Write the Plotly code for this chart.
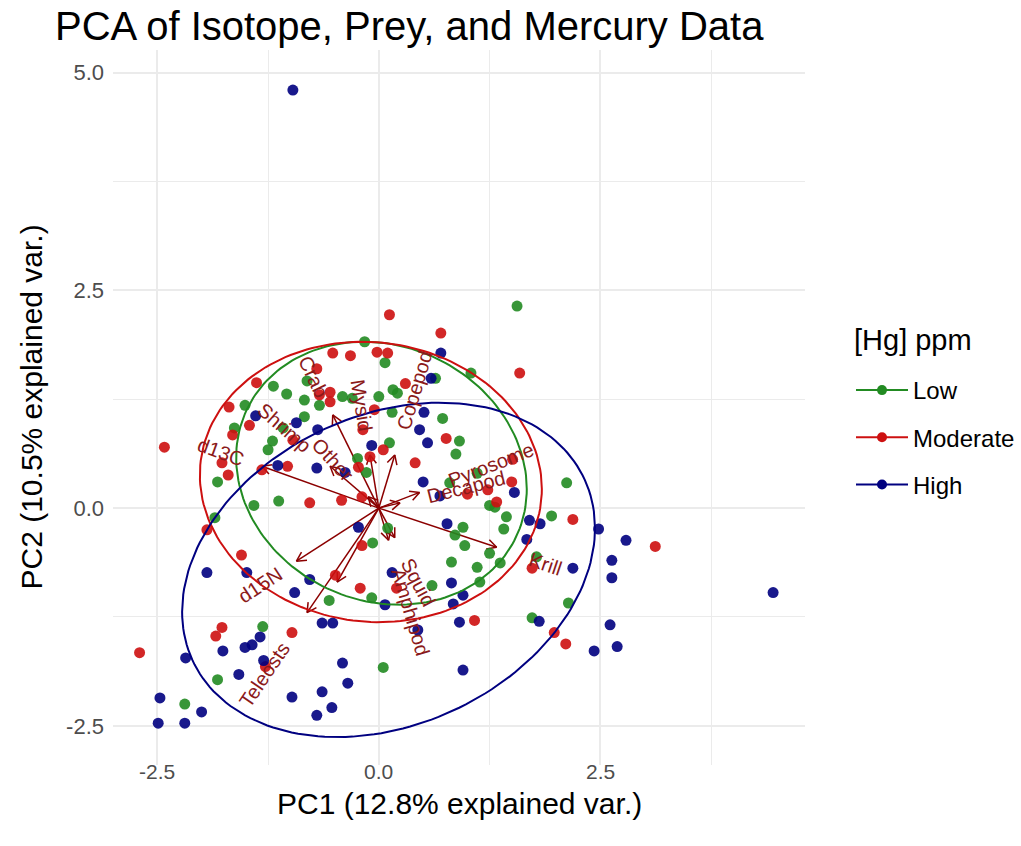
import numpy as np
import plotly.graph_objects as go

# ---------------- data (PC scores) ----------------
low_pc1 = [-0.16, 0.07, -0.81, -1.19, -1.04, -0.84, -0.67, -0.41, -0.30, 0.00, 0.16, 0.21,
           -1.51, -1.63, -1.08, -0.84, -1.20, 0.12, -0.24, -0.14, -1.82, 0.72, 1.56, 1.04,
           0.64, 0.15, 0.91, 0.87, 1.11, 2.12, 0.80, 1.31, 1.25, 1.44, 1.41, 1.95, 0.95,
           0.86, 0.97, 1.25, 1.37, 1.11, 0.82, 1.14, 1.78, 0.60, 0.10, 2.14, 1.73, 0.05,
           -0.07, -0.08, -0.56, -1.41, -1.13, -1.85, -1.31, -1.82, -2.19, -1.25]
low_pc2 = [1.91, 1.67, 1.46, 1.40, 1.31, 1.24, 1.18, 1.28, 1.26, 1.28, 1.36, 1.32,
           1.18, 0.92, 0.92, 1.05, 0.77, 0.75, 0.57, 0.41, 0.30, 1.03, 2.32, 1.55,
           1.49, 1.10, 0.77, 0.62, 0.40, 0.29, 0.29, 0.01, 0.03, -0.10, -0.24, -0.09, -0.22,
           -0.31, -0.43, -0.52, -0.63, -0.68, -0.62, -0.85, -0.56, -0.89, -0.23, -1.09, -1.26, -1.83,
           -0.40, -1.03, -1.06, 0.03, 0.08, -0.11, -1.36, -1.97, -2.25, 0.67]

mod_pc1 = [0.12, 0.70, -0.52, -0.32, -0.02, 0.10, -0.70, -1.38, -0.67, -0.55, -0.55, 0.30,
           -1.69, -1.46, -1.65, -0.97, -2.42, -0.18, -0.10, 0.05, 0.41, -1.03, -1.32, -1.77,
           -1.70, 0.76, 1.59, -0.05, 1.51, 1.50, 1.00, 1.23, 1.33, 2.19, 3.12, 1.73, 0.20,
           1.08, 1.98, 2.11, -0.78, -0.42, -0.19, -0.19, -0.49, -0.21, -1.94, -1.55, -1.77,
           -1.84, -0.98, -1.28, -2.70, -0.23]
mod_pc2 = [2.22, 2.01, 1.78, 1.75, 1.79, 1.78, 1.60, 1.44, 1.30, 1.33, 1.22, 1.43,
           1.16, 0.95, 0.84, 0.78, 0.70, 0.90, 0.59, 0.67, 0.52, 0.48, 0.44, 0.52,
           0.38, 0.80, 1.55, 1.13, 0.56, 0.30, 0.16, 0.21, 0.07, -0.13, -0.44, -0.69, -0.92,
           -1.29, -1.43, -1.56, 0.06, 0.09, 0.13, -0.43, -0.77, -0.92, -0.25, -0.54, -1.37,
           -1.47, -1.43, -1.82, -1.66, 0.47]

high_pc1 = [-0.97, 0.70, 0.59, 0.51, 0.46, 0.55, -1.39, -0.93, -0.69, -0.08, -0.70, -1.14,
            0.50, -0.38, 0.69, 1.53, 0.77, 1.70, 1.82, 1.67, 2.48, 2.79, 2.63, 2.63, 2.19,
            4.45, 0.15, 0.82, 0.95, 0.07, 0.84, 0.91, 1.81, 2.61, 2.43, 2.69, 0.44, 0.95,
            -0.23, -0.78, -0.64, -0.52, -1.94, -1.49, -0.95, -1.34, -1.76, -1.51, -1.43,
            -1.30, -2.18, -1.58, -0.41, -0.35, -0.64, -0.98, -0.53, -0.70, -2.47, -2.00,
            -2.49, -2.19]
high_pc2 = [4.80, 1.78, 1.49, 1.10, 0.90, 0.75, 1.06, 0.98, 0.90, 0.72, 0.46, 0.49,
            0.30, 0.41, 0.14, 0.18, -0.18, -0.14, -0.18, -0.36, -0.24, -0.37, -0.60, -0.80, -0.69,
            -0.97, -0.74, -0.86, -1.00, -1.11, -1.10, -1.31, -1.30, -1.34, -1.64, -1.59, -1.40, -1.86,
            -0.22, -0.82, -1.32, -1.32, -0.74, -0.74, -0.97, -1.48, -1.64, -1.60, -1.57,
            -1.75, -1.72, -1.91, -1.78, -2.01, -2.11, -2.17, -2.29, -2.38, -2.18, -2.34,
            -2.47, -2.47]

groups = ["Low", "Moderate", "High"]
group_colors = ["#228B22", "#CD1010", "#000080"]

# 68% normal-data ellipses per group: centre, spread and correlation
ell_cx = [0.03, -0.09, 0.11]
ell_cy = [0.40, 0.30, -0.71]
ell_sx = [1.64, 1.93, 2.33]
ell_sy = [1.51, 1.61, 1.92]
ell_rho = [-0.12, -0.05, 0.25]

# variable loadings (arrow tips); one arrow's label is not legible in the picture (empty)
var_names = ["d13C", "Shrimp", "Crab", "Mysid", "Copepod", "Other", "Pyrosome",
             "Decapod", "Krill", "Squid", "Amphipod", "d15N", "Teleosts", ""]
var_pc1 = [-1.32, -0.55, -0.52, -0.10, 0.18, -0.12, 0.46, 0.24, 1.33, 0.18, 0.11, -0.93, -0.81, -0.47]
var_pc2 = [0.48, 0.48, 1.07, 0.61, 0.61, 0.13, 0.18, 0.06, -0.45, -0.34, -0.37, -0.61, -1.20, -0.85]

x_ticks = [-2.5, 0.0, 2.5]
y_ticks = [-2.5, 0.0, 2.5, 5.0]
x_range = [-3.0, 4.81]
y_range = [-2.95, 5.26]

FONT = "Liberation Sans, Arial, Helvetica, sans-serif"
ARROW = "#8B0000"

# plot-area geometry (pixels) used to place legend / titles in paper units
L, R, T, B = 113, 805, 50, 765
W_PX, H_PX = R - L, B - T

def px2paper_x(px):
    return (px - L) / W_PX

def px2paper_y(py):
    return (B - py) / H_PX

def fmt(v):
    return f"{v:.1f}"

fig = go.Figure()

# ---- arrows (drawn first, under the points) ----
ax_x, ax_y = [], []
head_len = 0.12
for vx, vy in zip(var_pc1, var_pc2):
    ax_x += [0, vx, None]
    ax_y += [0, vy, None]
    ang = np.arctan2(vy, vx)
    for d in (np.pi - np.radians(28), np.pi + np.radians(28)):
        ax_x += [vx, vx + head_len * np.cos(ang + d), None]
        ax_y += [vy, vy + head_len * np.sin(ang + d), None]
fig.add_trace(go.Scatter(x=ax_x, y=ax_y, mode="lines", line=dict(color=ARROW, width=1.5),
                         hoverinfo="skip", showlegend=False))

# ---- points ----
pcs = [(low_pc1, low_pc2), (mod_pc1, mod_pc2), (high_pc1, high_pc2)]
for g, col, (px, py) in zip(groups, group_colors, pcs):
    fig.add_trace(go.Scatter(x=px, y=py, mode="markers", name=g, showlegend=False,
                             marker=dict(color=col, size=11, opacity=0.9, line=dict(width=0))))

# ---- ellipses ----
t = np.linspace(0, 2 * np.pi, 181)
for g, col, cx, cy, sx, sy, rho in zip(groups, group_colors, ell_cx, ell_cy, ell_sx, ell_sy, ell_rho):
    ex = cx + sx * np.cos(t)
    ey = cy + sy * (rho * np.cos(t) + np.sqrt(1 - rho ** 2) * np.sin(t))
    fig.add_trace(go.Scatter(x=ex, y=ey, mode="lines", line=dict(color=col, width=2),
                             hoverinfo="skip", showlegend=False))

# ---- legend entries ----
for g, col in zip(groups, group_colors):
    fig.add_trace(go.Scatter(x=[None], y=[None], mode="lines+markers", name=g, legendgroup=g,
                             line=dict(color=col, width=2), marker=dict(color=col, size=10)))

# ---- variable labels ----
px_per_unit = 88.0
char_w = 11.0
for name, vx, vy in zip(var_names, var_pc1, var_pc2):
    if not name:
        continue
    n = np.hypot(vx, vy)
    ux, uy = vx / n, vy / n
    w = len(name) * char_w / px_per_unit
    off = 0.75 * w + 10 / px_per_unit
    ang = np.degrees(np.arctan(vy / vx))
    fig.add_annotation(x=vx + off * ux, y=vy + off * uy, text=name, showarrow=False,
                       textangle=-ang, xanchor="center", yanchor="middle",
                       font=dict(family=FONT, size=20, color="#8B1A1A"))

# x tick labels (placed close under the panel, as in ggplot)
for v in x_ticks:
    fig.add_annotation(x=v, xref="x", y=px2paper_y(771), yref="paper", text=fmt(v),
                       showarrow=False, xanchor="center", yanchor="middle",
                       font=dict(family=FONT, size=21, color="#4D4D4D"))

# legend title and axis titles
fig.add_annotation(x=px2paper_x(852), y=px2paper_y(340), xref="paper", yref="paper",
                   text="[Hg] ppm", showarrow=False, xanchor="left", yanchor="middle",
                   font=dict(family=FONT, size=29, color="black"))
fig.add_annotation(x=0.5, y=px2paper_y(803), xref="paper", yref="paper",
                   text="PC1 (12.8% explained var.)", showarrow=False,
                   xanchor="center", yanchor="middle",
                   font=dict(family=FONT, size=30, color="black"))
fig.add_annotation(x=px2paper_x(31), y=0.5, xref="paper", yref="paper",
                   text="PC2 (10.5% explained var.)", showarrow=False, textangle=-90,
                   xanchor="center", yanchor="middle",
                   font=dict(family=FONT, size=30, color="black"))

fig.update_layout(
    width=1021, height=846,
    margin=dict(l=L, r=1021 - R, t=T, b=846 - B, autoexpand=False),
    paper_bgcolor="white", plot_bgcolor="white",
    font=dict(family=FONT, color="black"),
    title=dict(text="PCA of Isotope, Prey, and Mercury Data", x=55 / 1021, xanchor="left",
               y=1 - 26 / 846, yanchor="middle", font=dict(size=40, color="black")),
    legend=dict(font=dict(size=24), itemwidth=52,
                x=px2paper_x(851), xanchor="left", y=px2paper_y(368), yanchor="top",
                tracegroupgap=13, bgcolor="rgba(0,0,0,0)"),
    showlegend=True,
)
grid = dict(showgrid=True, gridcolor="#EBEBEB", gridwidth=1.8, zeroline=False, showline=False,
            ticks="")
fig.update_xaxes(range=x_range, tickmode="array", tickvals=x_ticks, showticklabels=False,
                 minor=dict(dtick=1.25, tick0=0, showgrid=True, gridcolor="#EBEBEB", gridwidth=0.9),
                 **grid)
fig.update_yaxes(range=y_range, tickmode="array", tickvals=y_ticks, ticktext=[fmt(v) for v in y_ticks],
                 ticklabelstandoff=8, tickfont=dict(size=22, color="#4D4D4D"),
                 minor=dict(dtick=1.25, tick0=0, showgrid=True, gridcolor="#EBEBEB", gridwidth=0.9),
                 **grid)

fig.write_html("out.html")
